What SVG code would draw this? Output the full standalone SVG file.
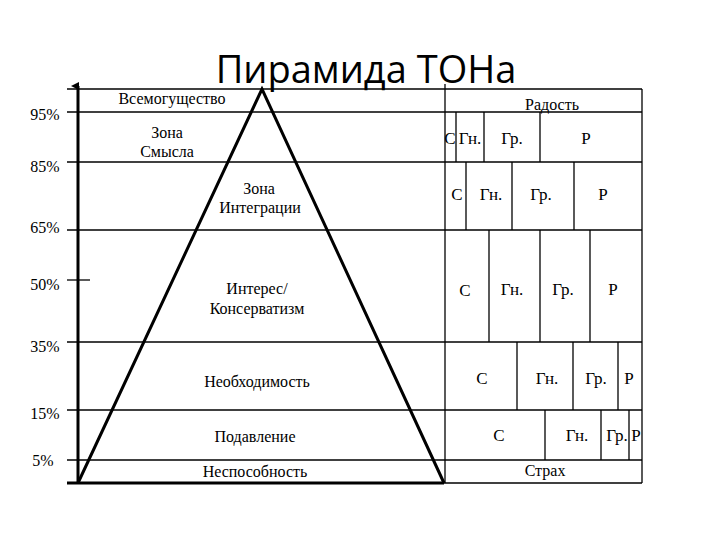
<svg xmlns="http://www.w3.org/2000/svg" width="720" height="540" viewBox="0 0 720 540">
<style>
.t{font-family:"Liberation Serif","DejaVu Serif","Times New Roman",serif;font-size:16px;fill:#000;text-anchor:middle;dominant-baseline:central}
.p{font-family:"Liberation Serif","DejaVu Serif","Times New Roman",serif;font-size:16px;fill:#000;text-anchor:middle;dominant-baseline:central}
.c{font-family:"Liberation Serif","DejaVu Serif","Times New Roman",serif;font-size:17px;fill:#000;text-anchor:middle;dominant-baseline:central}
.ln{stroke:#000;stroke-width:1.3;fill:none}
.thick{stroke:#000;stroke-width:3;fill:none}
</style>
<defs>
<marker id="ah" markerWidth="8" markerHeight="8" refX="4" refY="7" orient="auto" markerUnits="userSpaceOnUse" viewBox="0 0 8 8">
<path d="M0,8 L4,0 L8,8 Z" fill="#000"/>
</marker>
</defs>
<rect width="720" height="540" fill="#fff"/>
<text x="366" y="83" font-family="'Open Sans','Liberation Sans',sans-serif" font-size="38" text-anchor="middle" fill="#000">Пирамида ТОНа</text>
<g id="connectors">
<line class="ln" x1="67" y1="89" x2="642" y2="89"/>
<line class="ln" x1="67" y1="112" x2="642" y2="112"/>
<line class="ln" x1="67" y1="162" x2="642" y2="162"/>
<line class="ln" x1="67" y1="230" x2="642" y2="230"/>
<line class="ln" x1="67" y1="280" x2="90" y2="280"/>
<line class="ln" x1="67" y1="342" x2="642" y2="342"/>
<line class="ln" x1="67" y1="410" x2="642" y2="410"/>
<line class="ln" x1="67" y1="460" x2="642" y2="460"/>
<line class="ln" x1="444" y1="483" x2="642" y2="483"/>
<line class="thick" x1="67" y1="483" x2="444" y2="483"/>
<line class="ln" x1="445" y1="84" x2="445" y2="483"/>
<line class="ln" x1="642" y1="89" x2="642" y2="483"/>
<line class="ln" x1="456" y1="112" x2="456" y2="162"/>
<line class="ln" x1="484" y1="112" x2="484" y2="162"/>
<line class="ln" x1="540" y1="112" x2="540" y2="162"/>
<line class="ln" x1="466" y1="162" x2="466" y2="230"/>
<line class="ln" x1="512" y1="162" x2="512" y2="230"/>
<line class="ln" x1="574" y1="162" x2="574" y2="230"/>
<line class="ln" x1="489" y1="230" x2="489" y2="342"/>
<line class="ln" x1="540" y1="230" x2="540" y2="342"/>
<line class="ln" x1="590" y1="230" x2="590" y2="342"/>
<line class="ln" x1="517" y1="342" x2="517" y2="410"/>
<line class="ln" x1="573" y1="342" x2="573" y2="410"/>
<line class="ln" x1="618" y1="342" x2="618" y2="410"/>
<line class="ln" x1="545" y1="410" x2="545" y2="460"/>
<line class="ln" x1="601" y1="410" x2="601" y2="460"/>
<line class="ln" x1="629" y1="410" x2="629" y2="460"/>
<line class="thick" x1="78" y1="484" x2="78" y2="86" marker-end="url(#ah)"/>
</g>
<g id="pyramid"><polyline class="thick" points="78,483 262,89 444,483" stroke-linejoin="miter"/></g>
<g id="scale">
<text class="p" x="45" y="114">95%</text>
<text class="p" x="45" y="166">85%</text>
<text class="p" x="45" y="227">65%</text>
<text class="p" x="45" y="284">50%</text>
<text class="p" x="45" y="346">35%</text>
<text class="p" x="45" y="413">15%</text>
<text class="p" x="43" y="460">5%</text>
</g>
<g id="zones">
<text class="t" x="172" y="98">Всемогущество</text>
<text class="t" x="167" y="132">Зона</text>
<text class="t" x="167" y="151">Смысла</text>
<text class="t" x="259" y="188">Зона</text>
<text class="t" x="260" y="207">Интеграции</text>
<text class="t" x="257" y="288">Интерес/</text>
<text class="t" x="257" y="308">Консерватизм</text>
<text class="t" x="257" y="381">Необходимость</text>
<text class="t" x="255" y="436">Подавление</text>
<text class="t" x="255" y="471">Неспособность</text>
</g>
<g id="emotions">
<text class="t" x="552" y="104">Радость</text>
<text class="c" x="450" y="138">С</text>
<text class="c" x="470" y="138">Гн.</text>
<text class="c" x="512" y="138">Гр.</text>
<text class="c" x="586" y="138">Р</text>
<text class="c" x="457" y="194">С</text>
<text class="c" x="491" y="194">Гн.</text>
<text class="c" x="541" y="194">Гр.</text>
<text class="c" x="603" y="194">Р</text>
<text class="c" x="465" y="290">С</text>
<text class="c" x="512" y="289">Гн.</text>
<text class="c" x="563" y="289">Гр.</text>
<text class="c" x="613" y="289">Р</text>
<text class="c" x="482" y="378">С</text>
<text class="c" x="547" y="378">Гн.</text>
<text class="c" x="596" y="378">Гр.</text>
<text class="c" x="629" y="378">Р</text>
<text class="c" x="499" y="435">С</text>
<text class="c" x="577" y="435">Гн.</text>
<text class="c" x="617" y="435">Гр.</text>
<text class="c" x="636" y="435">Р</text>
<text class="t" x="545" y="470">Страх</text>
</g>
</svg>
